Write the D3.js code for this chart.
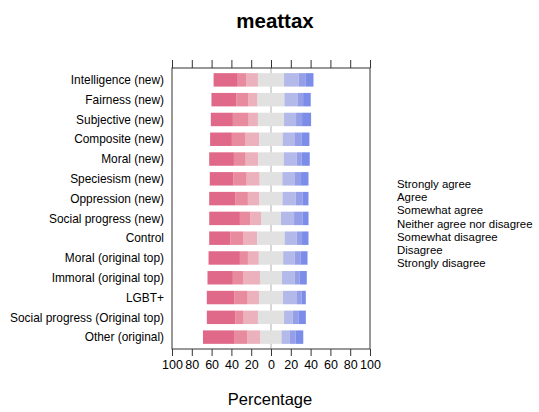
<!DOCTYPE html>
<html>
<head>
<meta charset="utf-8">
<script src="https://cdn.jsdelivr.net/npm/d3@7"></script>
<style>
  body { margin: 0; background: #fff; }
  svg { display: block; font-family: "Liberation Sans", Arial, sans-serif; }
</style>
</head>
<body>
<svg id="chart" width="539" height="412"></svg>
<script>
// rows, top to bottom
const categories = [
  'Intelligence (new)', 'Fairness (new)', 'Subjective (new)', 'Composite (new)',
  'Moral (new)', 'Speciesism (new)', 'Oppression (new)', 'Social progress (new)',
  'Control', 'Moral (original top)', 'Immoral (original top)', 'LGBT+',
  'Social progress (Original top)', 'Other (original)'
];

// percentages per response level
const stronglyDisagree = [24.4, 25.1, 22.3, 22.0, 25.0, 24.0, 26.6, 31.0, 21.4, 31.7, 25.6, 27.7, 28.7, 31.4];
const disagree         = [ 8.8, 12.1, 15.9, 13.8, 11.8, 13.2, 12.5, 10.5, 13.3,  8.1, 10.8, 13.5,  8.4, 13.2];
const somewhatDisagree = [11.6,  9.4,  9.4, 13.9, 12.8, 13.2, 11.7, 10.8, 13.9, 11.0, 16.6, 11.5, 14.5, 13.5];
const neither          = [26.4, 27.1, 26.4, 23.6, 25.7, 22.9, 23.3, 20.2, 27.7, 24.6, 22.3, 24.3, 26.4, 21.2];
const somewhatAgree    = [14.9, 13.2, 12.1, 11.8, 13.1, 12.2, 13.3, 13.2, 12.1, 11.7, 12.8, 13.5,  8.8,  8.1];
const agree            = [ 7.1,  5.7,  6.1,  7.1,  5.1,  6.7,  7.1,  8.8,  5.4,  6.1,  5.1,  5.4,  6.1,  6.1];
const stronglyAgree    = [ 7.7,  7.7,  9.1,  8.1,  8.1,  7.5,  5.8,  5.8,  6.5,  6.8,  7.1,  4.1,  7.1,  7.8];

const legendLabels = ['Strongly agree', 'Agree', 'Somewhat agree', 'Neither agree nor disagree',
  'Somewhat disagree', 'Disagree', 'Strongly disagree'];
const xTicks = [-100, -80, -60, -40, -20, 0, 20, 40, 60, 80, 100];

const colors = {
  sd: '#e0698a', d: '#e88b9f', swd: '#ebb1bc', n: '#e1e1e1',
  swa: '#b3b9e9', a: '#959fe8', sa: '#7b8de9'
};

const svg = d3.select('#chart');
const panel = { left: 172, right: 370, top: 68, bottom: 349 };

const x = d3.scaleLinear().domain([-100, 100]).range([panel.left, panel.right]);
const y = d3.scaleBand().domain(categories)
  .range([panel.top, panel.bottom])
  .paddingInner(0.32).paddingOuter(0.26);

// title
svg.append('text')
  .attr('x', 275).attr('y', 28)
  .attr('text-anchor', 'middle')
  .attr('font-size', '20.5px').attr('font-weight', 'bold')
  .text('meattax');

// zero reference line (behind bars)
svg.append('line')
  .attr('x1', x(0)).attr('x2', x(0))
  .attr('y1', panel.top).attr('y2', panel.bottom)
  .attr('stroke', '#bdbdbd').attr('stroke-width', 1.2);

// build segments: negative side goes left from -neutral/2
const segs = [];
categories.forEach((c, i) => {
  const half = neither[i] / 2;
  let left = -half;
  [['swd', somewhatDisagree[i]], ['d', disagree[i]], ['sd', stronglyDisagree[i]]].forEach(([k, v]) => {
    segs.push({ c, k, x0: left - v, x1: left });
    left -= v;
  });
  segs.push({ c, k: 'n', x0: -half, x1: half });
  let right = half;
  [['swa', somewhatAgree[i]], ['a', agree[i]], ['sa', stronglyAgree[i]]].forEach(([k, v]) => {
    segs.push({ c, k, x0: right, x1: right + v });
    right += v;
  });
});

svg.append('g').selectAll('rect')
  .data(segs)
  .enter().append('rect')
    .attr('x', s => x(s.x0))
    .attr('y', s => y(s.c))
    .attr('width', s => x(s.x1) - x(s.x0))
    .attr('height', y.bandwidth())
    .attr('fill', s => colors[s.k]);

// panel box
svg.append('rect')
  .attr('x', panel.left).attr('y', panel.top)
  .attr('width', panel.right - panel.left).attr('height', panel.bottom - panel.top)
  .attr('fill', 'none').attr('stroke', '#333').attr('stroke-width', 1);

// bottom axis
const bottomAxis = svg.append('g')
  .attr('transform', `translate(0,${panel.bottom})`)
  .call(d3.axisBottom(x).tickValues(xTicks).tickSize(7).tickPadding(4)
    .tickFormat(v => Math.abs(v)));
bottomAxis.select('.domain').remove();
bottomAxis.selectAll('line').attr('stroke', '#333');
bottomAxis.selectAll('text')
  .attr('font-size', '12.5px').attr('fill', '#000')
  .attr('font-family', '"Liberation Sans", Arial, sans-serif');

// top ticks, no labels
const topAxis = svg.append('g')
  .attr('transform', `translate(0,${panel.top})`)
  .call(d3.axisTop(x).tickValues(xTicks).tickSize(8).tickFormat(''));
topAxis.select('.domain').remove();
topAxis.selectAll('line').attr('stroke', '#333');

// y labels
svg.append('g').selectAll('text')
  .data(categories)
  .enter().append('text')
    .attr('x', 164)
    .attr('y', c => y(c) + y.bandwidth() / 2)
    .attr('dy', '0.35em')
    .attr('text-anchor', 'end')
    .attr('font-size', '11.9px')
    .text(c => c);

// x label
svg.append('text')
  .attr('x', 270).attr('y', 405)
  .attr('text-anchor', 'middle')
  .attr('font-size', '16.5px')
  .text('Percentage');

// legend (text only)
svg.append('g').selectAll('text')
  .data(legendLabels)
  .enter().append('text')
    .attr('x', 397)
    .attr('y', (d, i) => 184 + i * 13.25)
    .attr('dy', '0.35em')
    .attr('font-size', '11.4px')
    .text(d => d);
</script>
</body>
</html>
